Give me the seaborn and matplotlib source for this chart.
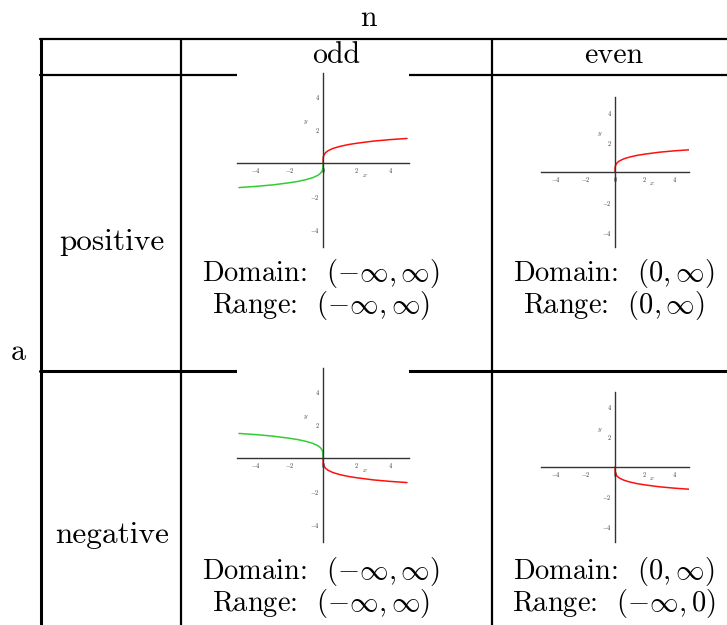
import numpy as np
import matplotlib
matplotlib.use("Agg")
import matplotlib.pyplot as plt
import seaborn as sns

sns.set_style("white")
plt.rcParams["mathtext.fontset"] = "cm"
plt.rcParams["font.family"] = ["cmr10", "DejaVu Serif"]
plt.rcParams["axes.formatter.use_mathtext"] = True
plt.rcParams["text.color"] = "black"

# table text
col_labels = ["odd", "even"]
row_labels = ["positive", "negative"]
domains = [[r"(-\infty, \infty)", r"(0, \infty)"],
           [r"(-\infty, \infty)", r"(0, \infty)"]]
ranges = [[r"(-\infty, \infty)", r"(0, \infty)"],
          [r"(-\infty, \infty)", r"(-\infty, 0)"]]

# curve points (x >= 0 branch)
root_x = [0.0, 0.01, 0.05, 0.15, 0.3, 0.6, 1.0, 1.5, 2.0, 3.0, 4.0, 5.0]
root_y = [0.0, 0.32, 0.47, 0.62, 0.74, 0.88, 1.0, 1.11, 1.19, 1.32, 1.41, 1.48]

RED = "#ff1010"
GREEN = "#33cc33"

W, H = 727, 625
fig = plt.figure(figsize=(W / 100, H / 100), dpi=100)

# background axes in pixel coordinates for the table
bg = fig.add_axes([0, 0, 1, 1])
bg.set_xlim(0, W)
bg.set_ylim(H, 0)
bg.axis("off")

lw = 1.6
bg.plot([40, W], [39, 39], color="black", lw=lw)
bg.plot([40, W], [75, 75], color="black", lw=lw)
bg.plot([40, W], [371, 371], color="black", lw=2.2)
bg.plot([41, 41], [39, H], color="black", lw=2.2)
bg.plot([181, 181], [39, H], color="black", lw=lw)
bg.plot([492, 492], [39, H], color="black", lw=lw)

fs = 21.5
bg.text(368, 18, "n", ha="center", va="center", fontsize=fs)
bg.text(18, 352, "a", ha="center", va="center", fontsize=fs)
col_x = [336, 614]
for cx, lab in zip(col_x, col_labels):
    bg.text(cx, 55, lab, ha="center", va="center", fontsize=fs)
row_y = [242, 535]
for ry, lab in zip(row_y, row_labels):
    bg.text(112, ry, lab, ha="center", va="center", fontsize=fs + 1)

fs_dr = 20.5
text_x = [321, 614]
text_y = [(274, 305), (571, 603)]
for i in range(2):
    for j in range(2):
        bg.text(text_x[j], text_y[i][0], "Domain:  $%s$" % domains[i][j],
                ha="center", va="center", fontsize=fs_dr)
        bg.text(text_x[j], text_y[i][1], "Range:  $%s$" % ranges[i][j],
                ha="center", va="center", fontsize=fs_dr)


def px_axes(left, top, right, bottom):
    return fig.add_axes([left / W, 1 - bottom / H, (right - left) / W, (bottom - top) / H])


def style_graph(ax, xlim, ylim):
    ax.set_xlim(*xlim)
    ax.set_ylim(*ylim)
    ax.set_facecolor("white")
    for s in ["top", "right"]:
        ax.spines[s].set_visible(False)
    for s in ["left", "bottom"]:
        ax.spines[s].set_position("zero")
        ax.spines[s].set_color("#333333")
        ax.spines[s].set_linewidth(1.0)
    ticks = list(range(-5, 6))
    ax.set_xticks(ticks)
    ax.set_yticks(ticks)
    ax.set_xticklabels(["$%d$" % t if t % 2 == 0 else "" for t in ticks])
    ax.set_yticklabels(["$%d$" % t if t % 2 == 0 and t != 0 else "" for t in ticks])
    ax.tick_params(direction="inout", length=2.5, width=0.7, color="#333333",
                   labelsize=4.5, labelcolor="#333333", pad=1)
    ax.text(2.5, -0.75, r"$x$", fontsize=5, color="#444444", ha="center", va="center")
    ax.text(-1.0, 2.5, r"$y$", fontsize=5, color="#444444", ha="center", va="center")
    ax.set_xlabel("")
    ax.set_ylabel("")


rx = np.array(root_x)
ry = np.array(root_y)

# odd, positive
ax1 = px_axes(237.3, 73.4, 408.7, 246.8)
sns.lineplot(x=rx, y=ry, color=RED, lw=1.1, ax=ax1, sort=False)
sns.lineplot(x=-rx, y=-ry, color=GREEN, lw=1.1, ax=ax1, sort=False)
style_graph(ax1, (-5.1, 5.1), (-5.05, 5.4))

# even, positive
ax2 = px_axes(541, 97, 689, 247)
sns.lineplot(x=rx, y=ry, color=RED, lw=1.1, ax=ax2, sort=False)
style_graph(ax2, (-5, 5), (-5, 5))

# odd, negative
ax3 = px_axes(237.3, 368.4, 408.7, 541.8)
sns.lineplot(x=rx, y=-ry, color=RED, lw=1.1, ax=ax3, sort=False)
sns.lineplot(x=-rx, y=ry, color=GREEN, lw=1.1, ax=ax3, sort=False)
style_graph(ax3, (-5.1, 5.1), (-5.05, 5.4))

# even, negative
ax4 = px_axes(541, 392, 689, 542)
sns.lineplot(x=rx, y=-ry, color=RED, lw=1.1, ax=ax4, sort=False)
style_graph(ax4, (-5, 5), (-5, 5))

fig.savefig("out.png", dpi=100)
